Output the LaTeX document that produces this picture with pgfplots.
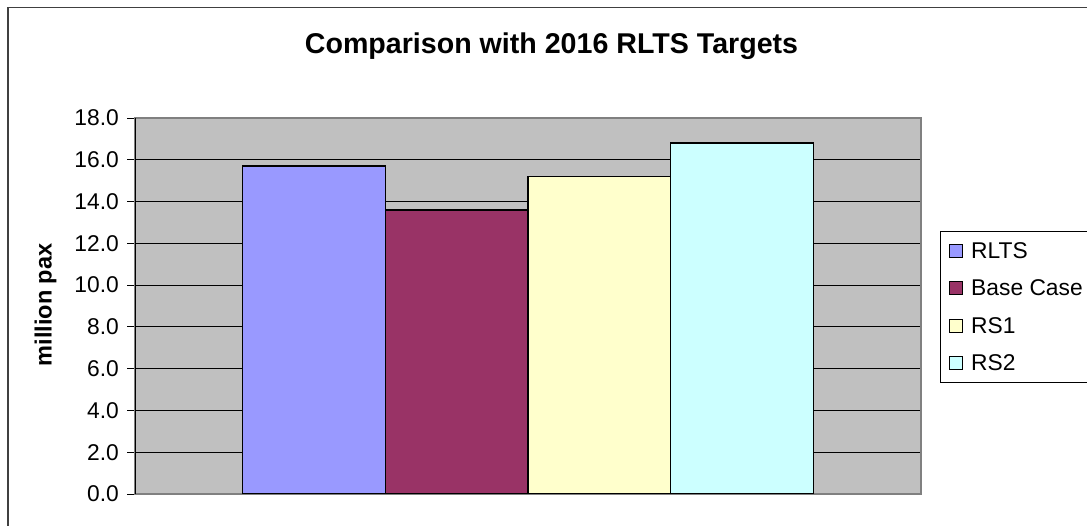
\documentclass[border=0pt]{standalone}
\usepackage{fontspec}
\setmainfont{Liberation Sans}
\usepackage{pgfplots}
\pgfplotsset{compat=1.18}
\definecolor{bg}{HTML}{C0C0C0}
\definecolor{cA}{HTML}{9999FF}
\definecolor{cB}{HTML}{993366}
\definecolor{cC}{HTML}{FFFFCC}
\definecolor{cD}{HTML}{CCFFFF}
\begin{document}
\begin{tikzpicture}[x=1pt,y=1pt]
\useasboundingbox (0,0) rectangle (1087,526);
\fill[white] (0,0) rectangle (1087,526);
\draw[line width=1.2pt, black!75] (8,-20) rectangle (1110,518.5);
\node[anchor=base, inner sep=0pt, font=\fontsize{28.6pt}{33pt}\selectfont\bfseries] at (551.5,472.7) {Comparison with 2016 RLTS Targets};
\node[anchor=base, rotate=90, inner sep=0pt, font=\fontsize{23.5pt}{28pt}\selectfont\bfseries] at (51.7,221) {million pax};
\begin{axis}[at={(135pt,32pt)}, anchor=south west, width=786pt, height=376pt, scale only axis,
  ymin=0, ymax=18, ytick={0,2,...,18}, xmin=-1, xmax=1, xtick=\empty,
  ybar=0pt, bar width=142.75pt,
  ymajorgrids, major grid style={black, line width=0.8pt},
  axis background/.style={fill=bg},
  axis line style={draw=black!50, line width=1.2pt},
  tick align=outside, major tick length=8pt, tick style={black, line width=0.8pt},
  ytick pos=left,
  yticklabel style={font=\fontsize{22.8pt}{27pt}\selectfont, inner sep=0pt, xshift=-8pt,
    /pgf/number format/.cd, fixed, fixed zerofill, precision=1, assume math mode=true},
  legend style={at={(1.0242,0.6995)}, anchor=north west, draw=black, line width=0.8pt,
    font=\fontsize{22.8pt}{27pt}\selectfont, inner xsep=9pt, inner ysep=11pt, row sep=21pt,
    nodes={inner sep=0pt, text height=16pt, text depth=0.5pt, anchor=west},
    /tikz/every odd column/.append style={column sep=8pt}},
  legend cell align=left,
  legend image code/.code={\draw[#1, line width=0.8pt] (0pt,-6.5pt) rectangle (13pt,6.5pt);},
]
\addplot[fill=cA, draw=black, line width=1.4pt] coordinates {(0,15.7)};
\addplot[fill=cB, draw=black, line width=1.4pt] coordinates {(0,13.6)};
\addplot[fill=cC, draw=black, line width=1.4pt] coordinates {(0,15.2)};
\addplot[fill=cD, draw=black, line width=1.4pt] coordinates {(0,16.8)};
\legend{RLTS, Base Case, RS1, RS2}
\draw[black, line width=0.8pt] (rel axis cs:0,0) -- (rel axis cs:0,1);
\end{axis}
\end{tikzpicture}
\end{document}
